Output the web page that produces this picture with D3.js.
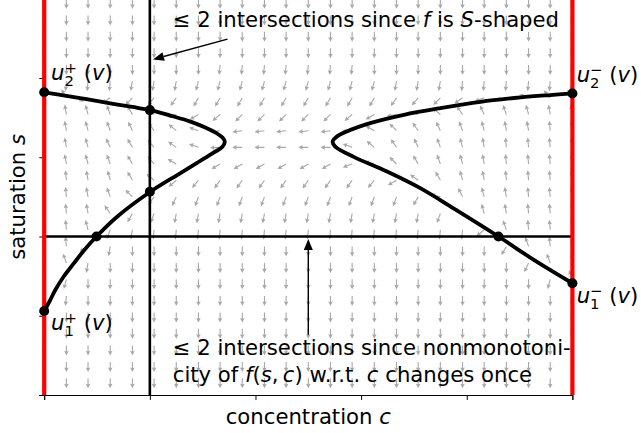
<!DOCTYPE html>
<html>
<head>
<meta charset="utf-8">
<script src="https://cdn.jsdelivr.net/npm/d3@7"></script>
<style>
  body { margin: 0; background: #fff; }
  svg { display: block; font-family: 'DejaVu Sans', sans-serif; }
</style>
</head>
<body>
<div id="chart"></div>
<script>
// Data
// grid of the direction field: c left to right, s top to bottom
const cGrid = [0, 0.042, 0.083, 0.125, 0.167, 0.208, 0.25, 0.292, 0.333, 0.375, 0.417, 0.458, 0.5,
  0.542, 0.583, 0.625, 0.667, 0.708, 0.75, 0.792, 0.833, 0.875, 0.917, 0.958, 1]
const sGrid = [1, 0.958, 0.917, 0.875, 0.833, 0.792, 0.75, 0.708, 0.667, 0.625, 0.583, 0.542, 0.5,
  0.458, 0.417, 0.375, 0.333, 0.292, 0.25, 0.208, 0.167, 0.125, 0.083, 0.042, 0]

// arrow direction in degrees (0 = right, 90 = up, 180 = left, 270 = down), one row per sGrid value
const fieldAngles = [
  [270,270,270,270,270,270,270,270,270,270,270,270,270,270,270,270,270,270,270,270,270,270,270,270,270],
  [270,270,270,270,270,270,270,270,270,270,270,270,270,270,270,270,270,270,270,270,270,270,270,270,270],
  [270,270,270,270,270,270,270,270,270,270,270,270,270,270,270,270,270,270,270,270,270,270,270,270,270],
  [270,270,270,270,270,270,270,270,270,270,270,270,270,270,270,270,270,270,270,270,270,270,270,270,270],
  [270,270,270,270,270,270,270,270,265,265,265,265,265,265,265,270,270,270,270,270,270,270,270,270,270],
  [265,265,265,265,260,260,260,255,255,255,255,255,255,255,255,255,260,260,260,265,265,265,265,265,265],
  [110,120,200,215,225,230,235,240,240,240,240,240,240,240,240,240,235,230,225,215,200,190,160,130,120],
  [100,100,105,110,120,145,195,210,220,225,225,225,225,225,220,210,190,165,140,125,115,110,105,100,100],
  [95,100,105,110,115,125,140,160,187,187,187,187,187,187,180,150,135,125,115,110,105,100,100,95,95],
  [95,100,105,115,120,130,145,160,183,180,180,180,180,180,160,140,125,115,110,105,100,95,95,95,95],
  [95,100,105,110,120,130,150,195,210,210,210,210,210,210,200,165,135,120,110,105,100,95,95,95,95],
  [95,95,100,105,120,140,220,230,235,235,235,235,235,235,235,230,210,145,120,105,100,95,95,95,95],
  [95,95,100,110,135,235,245,250,250,250,250,250,250,250,250,250,250,240,165,115,105,100,95,95,95],
  [95,95,100,125,240,250,260,260,260,260,260,260,260,260,260,260,260,260,250,150,105,100,95,95,90],
  [90,95,105,250,260,265,265,265,265,265,265,265,265,265,265,265,265,265,265,265,220,110,95,95,90],
  [90,95,210,260,270,270,270,270,270,270,270,270,270,270,270,270,270,270,270,270,270,240,110,95,90],
  [90,110,260,270,270,270,270,270,270,270,270,270,270,270,270,270,270,270,270,270,270,270,245,110,95],
  [90,255,270,270,270,270,270,270,270,270,270,270,270,270,270,270,270,270,270,270,270,270,270,255,110],
  [95,265,270,270,270,270,270,270,270,270,270,270,270,270,270,270,270,270,270,270,270,270,270,270,265],
  [270,270,270,270,270,270,270,270,270,270,270,270,270,270,270,270,270,270,270,270,270,270,270,270,270],
  [270,270,270,270,270,270,270,270,270,270,270,270,270,270,270,270,270,270,270,270,270,270,270,270,270],
  [270,270,270,270,270,270,270,270,270,270,270,270,270,270,270,270,270,270,270,270,270,270,270,270,270],
  [270,270,270,270,270,270,270,270,270,270,270,270,270,270,270,270,270,270,270,270,270,270,270,270,270],
  [270,270,270,270,270,270,270,270,270,270,270,270,270,270,270,270,270,270,270,270,270,270,270,270,270],
  [270,270,270,270,270,270,270,270,270,270,270,270,270,270,270,270,270,270,270,270,270,270,270,270,270]
]

// curve u^+ (left) and u^- (right) as [c, s]
const uPlusCurve = [
  [0, 0.764], [0.042, 0.755], [0.083, 0.746], [0.125, 0.736], [0.167, 0.727], [0.201, 0.719],
  [0.239, 0.705], [0.277, 0.690], [0.305, 0.675], [0.327, 0.660], [0.338, 0.649], [0.342, 0.639],
  [0.337, 0.626], [0.320, 0.611], [0.292, 0.588], [0.258, 0.560], [0.201, 0.513], [0.138, 0.450],
  [0.099, 0.400], [0.076, 0.366], [0.056, 0.332], [0.037, 0.299], [0.021, 0.265], [0.010, 0.236], [0, 0.212]
]
const uMinusCurve = [
  [1, 0.761], [0.958, 0.757], [0.902, 0.751], [0.826, 0.740], [0.750, 0.724], [0.681, 0.707],
  [0.617, 0.686], [0.573, 0.665], [0.553, 0.651], [0.546, 0.639], [0.551, 0.627], [0.586, 0.601],
  [0.649, 0.564], [0.712, 0.522], [0.775, 0.471], [0.860, 0.400], [0.927, 0.341], [1, 0.282]
]
const intersectionPoints = [
  [0, 0.764], [0.2, 0.719], [0.2, 0.513], [0.099, 0.4], [0, 0.212],
  [1, 0.761], [0.860, 0.4], [1, 0.282]
]

const boundaryC = [0, 1]
const lineC = 0.2
const lineS = 0.4
const xTicks = [0, 0.2, 0.4, 0.6, 0.8, 1]
const yTicks = [0, 0.2, 0.4, 0.6, 0.8, 1]

// curve end labels: [c, s, subscript, superscript]
const endLabels = [
  [0.013, 0.795, '2', '+'],
  [0.013, 0.164, '1', '+'],
  [1.008, 0.790, '2', '\u2212'],
  [1.008, 0.231, '1', '\u2212']
]

// annotation arrows [from, to]
const annotationArrows = [
  [[0.347, 0.898], [0.206, 0.847]],
  [[0.5, 0.152], [0.5, 0.394]]
]

// Dimensions
const width = 641
const height = 433
const fontSize = 21.2

const svg = d3.select('#chart')
  .append('svg')
  .attr('width', width)
  .attr('height', height)

// Scales
const xScale = d3.scaleLinear().domain([0, 1]).range([44.2, 572.4])
const yScale = d3.scaleLinear().domain([0, 1]).range([395, -1.25])

svg.append('defs').append('clipPath')
  .attr('id', 'plot-area')
  .append('rect')
  .attr('x', xScale(0))
  .attr('y', yScale(1))
  .attr('width', xScale(1) - xScale(0))
  .attr('height', yScale(0) - yScale(1))

// Draw direction field
const cells = []
fieldAngles.forEach((row, i) => row.forEach((a, j) => cells.push({ c: cGrid[j], s: sGrid[i], a })))

const arrowLen = 10, shaft = 1.1, headLen = 4.6, headAxis = 4, headHalf = 2.3
const arrowShape = d3.line()([
  [0, -shaft / 2], [arrowLen - headAxis, -shaft / 2], [arrowLen - headLen, -headHalf],
  [arrowLen, 0], [arrowLen - headLen, headHalf], [arrowLen - headAxis, shaft / 2], [0, shaft / 2]
]) + 'Z'

svg.append('g')
  .attr('clip-path', 'url(#plot-area)')
  .selectAll('path')
  .data(cells)
  .join('path')
  .attr('d', arrowShape)
  .attr('fill', '#a8a8a8')
  .attr('transform', d => `translate(${xScale(d.c)},${yScale(d.s)}) rotate(${-d.a})`)

// Axes
const xAxis = d3.axisBottom(xScale).tickValues(xTicks).tickFormat('').tickSizeOuter(0).tickSize(4.9)
svg.append('g')
  .attr('transform', `translate(0,${yScale(0)})`)
  .call(xAxis)
  .call(g => g.selectAll('path, line').attr('stroke', '#000').attr('stroke-width', 1))

const yAxis = d3.axisLeft(yScale).tickValues(yTicks).tickFormat('').tickSizeOuter(0).tickSize(4.9)
svg.append('g')
  .attr('transform', `translate(${xScale(0)},0)`)
  .call(yAxis)
  .call(g => g.selectAll('path, line').attr('stroke', '#000').attr('stroke-width', 1))

svg.append('line')
  .attr('x1', xScale(1)).attr('x2', xScale(1))
  .attr('y1', yScale(0)).attr('y2', yScale(1))
  .attr('stroke', '#000')

// Reference lines
svg.append('line')
  .attr('x1', xScale(lineC)).attr('x2', xScale(lineC))
  .attr('y1', yScale(0)).attr('y2', yScale(1))
  .attr('stroke', '#000').attr('stroke-width', 2.6)

svg.append('line')
  .attr('x1', xScale(0)).attr('x2', xScale(1))
  .attr('y1', yScale(lineS)).attr('y2', yScale(lineS))
  .attr('stroke', '#000').attr('stroke-width', 2.6)

svg.selectAll('.boundary')
  .data(boundaryC)
  .join('line')
  .attr('class', 'boundary')
  .attr('x1', d => xScale(d)).attr('x2', d => xScale(d))
  .attr('y1', yScale(0)).attr('y2', yScale(1))
  .attr('stroke', '#ff0000')
  .attr('stroke-width', 4.2)

// Curves
const lineGenerator = d3.line()
  .x(d => xScale(d[0]))
  .y(d => yScale(d[1]))
  .curve(d3.curveCatmullRom)

svg.selectAll('.curve')
  .data([uPlusCurve, uMinusCurve])
  .join('path')
  .attr('class', 'curve')
  .attr('d', lineGenerator)
  .attr('fill', 'none')
  .attr('stroke', '#000')
  .attr('stroke-width', 3.8)

svg.selectAll('.point')
  .data(intersectionPoints)
  .join('circle')
  .attr('class', 'point')
  .attr('cx', d => xScale(d[0]))
  .attr('cy', d => yScale(d[1]))
  .attr('r', 5)
  .attr('fill', '#000')

// Labels u_i^±(v)
endLabels.forEach(([c, s, sub, sup]) => {
  const t = svg.append('text')
    .attr('x', xScale(c))
    .attr('y', yScale(s))
    .attr('font-size', fontSize)
  t.append('tspan').attr('font-style', 'italic').text('u')
  const subSpan = t.append('tspan').attr('font-size', fontSize * 0.7).attr('dy', 6).text(sub)
  const subW = subSpan.node().getComputedTextLength()
  t.append('tspan').attr('font-size', fontSize * 0.7).attr('dx', -subW).attr('dy', -13).text(sup)
  t.append('tspan').attr('dy', 7).text('\u00a0(')
  t.append('tspan').attr('font-style', 'italic').text('v')
  t.append('tspan').text(')')
})

// Annotations
function addText(x, y, parts) {
  const t = svg.append('text')
    .attr('x', x)
    .attr('y', y)
    .attr('font-size', fontSize)
  parts.forEach(p => {
    t.append('tspan')
      .attr('font-style', p[1] ? 'italic' : 'normal')
      .text(p[0])
  })
}

addText(xScale(0.2434), yScale(0.9287), [
  ['\u2264 2 intersections since '], ['f', 1], [' is '], ['S', 1], ['-shaped']
])
addText(xScale(0.2434), yScale(0.1009), [
  ['\u2264 2 intersections since nonmonotoni-']
])
addText(xScale(0.2434), yScale(0.0328), [
  ['city of '], ['f', 1], ['('], ['s', 1], [',\u2009'], ['c', 1], [') w.r.t. '], ['c', 1], [' changes once']
])

annotationArrows.forEach(([from, to]) => {
  const x1 = xScale(from[0]), y1 = yScale(from[1])
  const x2 = xScale(to[0]), y2 = yScale(to[1])
  const ang = Math.atan2(y2 - y1, x2 - x1)
  const hl = 11, hw = 4.5
  const bx = x2 - hl * Math.cos(ang), by = y2 - hl * Math.sin(ang)
  svg.append('line')
    .attr('x1', x1).attr('y1', y1).attr('x2', bx).attr('y2', by)
    .attr('stroke', '#000').attr('stroke-width', 1.4)
  svg.append('path')
    .attr('d', d3.line()([
      [x2, y2],
      [bx + hw * Math.sin(ang), by - hw * Math.cos(ang)],
      [bx - hw * Math.sin(ang), by + hw * Math.cos(ang)]
    ]) + 'Z')
    .attr('fill', '#000')
})

// Axis labels
const xLabel = svg.append('text')
  .attr('x', (xScale(0) + xScale(1)) / 2)
  .attr('y', 424)
  .attr('text-anchor', 'middle')
  .attr('font-size', fontSize)
xLabel.append('tspan').text('concentration ')
xLabel.append('tspan').attr('font-style', 'italic').text('c')

const yLabel = svg.append('text')
  .attr('transform', `translate(25,${(yScale(0) + yScale(1)) / 2}) rotate(-90)`)
  .attr('text-anchor', 'middle')
  .attr('font-size', fontSize)
yLabel.append('tspan').text('saturation ')
yLabel.append('tspan').attr('font-style', 'italic').text('s')
</script>
</body>
</html>
